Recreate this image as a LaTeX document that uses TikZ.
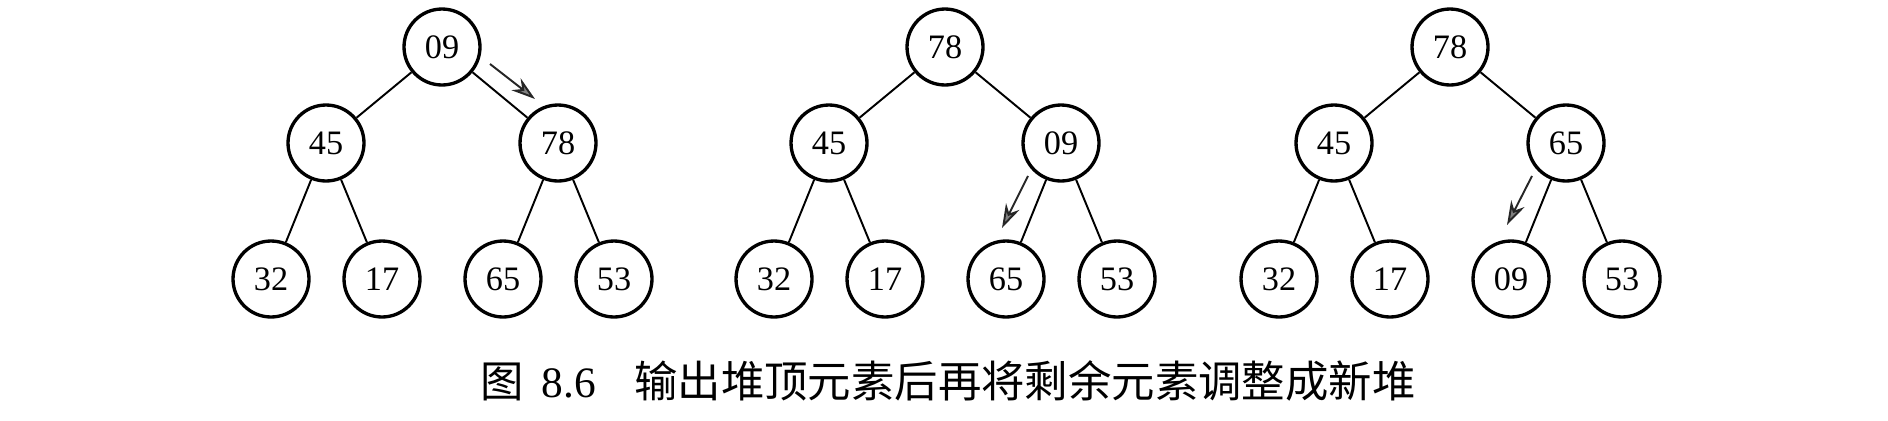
\documentclass[tikz,border=0pt]{standalone}
\usepackage{fontspec}
\setmainfont{Liberation Serif}
\newfontfamily\cjk{Noto Sans CJK SC}
\usetikzlibrary{positioning,arrows.meta}

\begin{document}
\begin{tikzpicture}[x=0.02cm, y=-0.02cm, >={Stealth[length=0.48cm, width=0.3cm, fill=gray]},
  key/.style={draw, circle, line width=1.9pt, minimum size=1.52cm, inner sep=0pt, font=\fontsize{19.5}{19.5}\selectfont},
  edge/.style={line width=1.1pt},
  move/.style={->, line width=1.1pt, black!85}]

  \useasboundingbox (0,0) rectangle (1888,420);

  % Three heaps: root, two children, four leaves
  \foreach \t/\x/\r/\a/\b/\c/\d/\e/\f in {1/442/09/45/78/32/17/65/53, 2/945/78/45/09/32/17/65/53, 3/1450/78/45/65/32/17/09/53} {
    \node[key] (r\t) at (\x,47) {\r};
    \node[key] (a\t) at (\x-116,143) {\a};
    \node[key] (b\t) at (\x+116,143) {\b};
    \node[key] (c\t) at (\x-171,279) {\c};
    \node[key] (d\t) at (\x-60,279) {\d};
    \node[key] (e\t) at (\x+61,279) {\e};
    \node[key] (f\t) at (\x+172,279) {\f};
    \draw[edge] (r\t) -- (a\t) (r\t) -- (b\t);
    \draw[edge] (a\t) -- (c\t) (a\t) -- (d\t);
    \draw[edge] (b\t) -- (e\t) (b\t) -- (f\t);
  }

  % Sift-down moves of 09
  \coordinate (s1) at ([shift={(48,17)}]r1.center);
  \coordinate (t1) at ([shift={(93,52)}]r1.center);
  \draw[move] (s1) -- (t1);

  \coordinate (s2) at ([shift={(-33,33)}]b2.center);
  \coordinate (t2) at ([shift={(-59,85)}]b2.center);
  \draw[move] (s2) -- (t2);

  \coordinate (s3) at ([shift={(-34,33)}]b3.center);
  \coordinate (t3) at ([shift={(-59,82)}]b3.center);
  \draw[move] (s3) -- (t3);

  % Caption
  \node[font=\fontsize{24.7}{24.7}\selectfont] (cap) at (948,381)
    {{\cjk 图}\hspace{10pt}8.6\hspace{22pt}{\cjk 输出堆顶元素后再将剩余元素调整成新堆}};

\end{tikzpicture}
\end{document}
